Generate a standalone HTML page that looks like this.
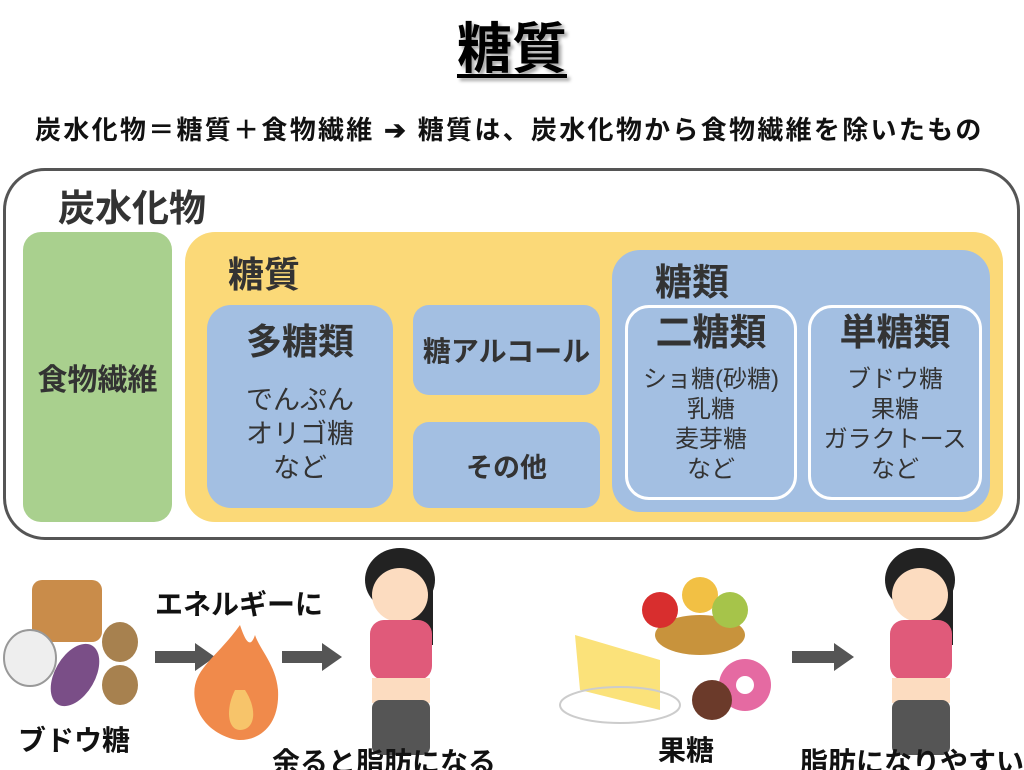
<!DOCTYPE html>
<html><head><meta charset="utf-8"><style>
body{margin:0;width:1024px;height:770px;overflow:hidden;background:#fff;font-family:"Liberation Sans","Noto Sans CJK JP",sans-serif;font-weight:bold;position:relative}
.a{position:absolute}
.t{position:absolute;white-space:nowrap}
.c{display:flex;flex-direction:column;align-items:center;justify-content:center;text-align:center;color:#333}
</style></head><body>
<div class="t" style="left:0;width:1024px;text-align:center;top:4px;font-size:55px;text-decoration:underline;text-decoration-thickness:4px;text-underline-offset:6px;text-shadow:3px 3px 3px #aaa">糖質</div>
<div class="t" style="left:35px;top:110px;font-size:26px;letter-spacing:2.3px;color:#111">炭水化物＝糖質＋食物繊維 ➔ 糖質は、炭水化物から食物繊維を除いたもの</div>
<div class="a" style="left:3px;top:168px;width:1011px;height:366px;border:3px solid #555;border-radius:42px"></div>
<div class="t" style="left:58px;top:178px;font-size:37px;color:#333">炭水化物</div>
<div class="a c" style="left:23px;top:232px;width:149px;height:290px;background:#a9d08e;border-radius:18px;font-size:30px">食物繊維</div>
<div class="a" style="left:185px;top:232px;width:818px;height:290px;background:#fbd978;border-radius:30px"></div>
<div class="t" style="left:228px;top:246px;font-size:36px;color:#333">糖質</div>
<div class="a c" style="left:207px;top:305px;width:186px;height:203px;background:#a3bfe2;border-radius:24px;font-size:27px;font-weight:normal;line-height:34px;justify-content:flex-start"><div style="font-size:36px;font-weight:bold;margin-top:20px;margin-bottom:24px">多糖類</div>でんぷん<br>オリゴ糖<br>など</div>
<div class="a c" style="left:413px;top:305px;width:187px;height:90px;background:#a3bfe2;border-radius:16px;font-size:28px">糖アルコール</div>
<div class="a c" style="left:413px;top:422px;width:187px;height:86px;background:#a3bfe2;border-radius:16px;font-size:27px">その他</div>
<div class="a" style="left:612px;top:250px;width:378px;height:262px;background:#a3bfe2;border-radius:28px"></div>
<div class="t" style="left:655px;top:252px;font-size:37px;color:#333">糖類</div>
<div class="a c" style="left:625px;top:305px;width:166px;height:189px;border:3px solid #fff;border-radius:24px;font-size:24px;font-weight:normal;line-height:30px;justify-content:flex-start"><div style="font-size:37px;font-weight:bold;margin-top:10px;margin-bottom:17px">二糖類</div>ショ糖(砂糖)<br>乳糖<br>麦芽糖<br>など</div>
<div class="a c" style="left:808px;top:305px;width:168px;height:189px;border:3px solid #fff;border-radius:24px;font-size:24px;font-weight:normal;line-height:30px;justify-content:flex-start"><div style="font-size:37px;font-weight:bold;margin-top:10px;margin-bottom:17px">単糖類</div>ブドウ糖<br>果糖<br>ガラクトース<br>など</div>

<svg class="a" style="left:0;top:540px" width="1024" height="230">
<g fill="#555"><rect x="155" y="111" width="40" height="12"/><polygon points="195,103 215,117 195,131"/>
<rect x="282" y="111" width="40" height="12"/><polygon points="322,103 342,117 322,131"/>
<rect x="792" y="111" width="42" height="12"/><polygon points="834,103 854,117 834,131"/></g>
<rect x="32" y="40" width="70" height="62" rx="10" fill="#c98c4a"/>
<ellipse cx="30" cy="118" rx="26" ry="28" fill="#eee" stroke="#999" stroke-width="2"/>
<ellipse cx="75" cy="135" rx="20" ry="34" fill="#7a4e87" transform="rotate(30 75 135)"/>
<ellipse cx="120" cy="102" rx="18" ry="20" fill="#a7814f"/>
<ellipse cx="120" cy="145" rx="18" ry="20" fill="#a7814f"/>
<path d="M240 85 C215 120 190 130 195 160 C200 190 230 200 240 200 C260 200 280 185 278 150 C276 125 260 110 255 95 C250 110 245 100 240 85Z" fill="#f08a4b"/>
<path d="M235 150 C225 170 228 190 240 190 C255 190 258 170 245 150Z" fill="#f7c46a"/>
<g id="w">
<ellipse cx="400" cy="40" rx="35" ry="32" fill="#222"/>
<rect x="408" y="40" width="25" height="65" fill="#222"/>
<ellipse cx="400" cy="55" rx="28" ry="27" fill="#fcdcc0"/>
<rect x="370" y="80" width="62" height="60" rx="14" fill="#e05a7a"/>
<rect x="372" y="138" width="58" height="25" fill="#fcdcc0"/>
<rect x="372" y="160" width="58" height="55" rx="8" fill="#555"/>
</g>
<use href="#w" transform="translate(520 0)"/>
<ellipse cx="700" cy="95" rx="45" ry="20" fill="#c8933c"/>
<circle cx="660" cy="70" r="18" fill="#d82e2e"/><circle cx="700" cy="55" r="18" fill="#f2c044"/><circle cx="730" cy="70" r="18" fill="#a6c44a"/>
<polygon points="575,95 660,120 660,170 580,150" fill="#fbe27a"/>
<ellipse cx="620" cy="165" rx="60" ry="18" fill="none" stroke="#ccc" stroke-width="2"/>
<circle cx="745" cy="145" r="26" fill="#e56aa2"/><circle cx="745" cy="145" r="9" fill="#fff"/>
<circle cx="712" cy="160" r="20" fill="#6b3a2a"/>
<g font-size="28" fill="#111" font-family="Liberation Sans,Noto Sans CJK JP,sans-serif" font-weight="bold">
<text x="155" y="74">エネルギーに</text>
<text x="18" y="210">ブドウ糖</text>
<text x="272" y="232">余ると脂肪になる</text>
<text x="658" y="220">果糖</text>
<text x="800" y="232">脂肪になりやすい</text>
</g>
</svg>
</body></html>
